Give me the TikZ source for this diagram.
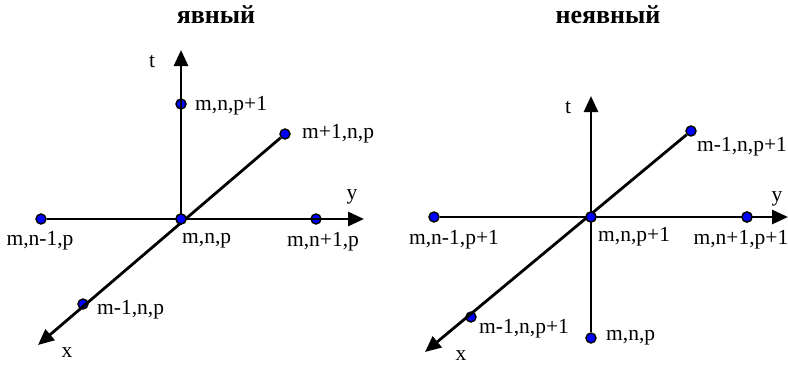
\documentclass[tikz,border=0pt]{standalone}
\usepackage{fontspec}
\setmainfont{Liberation Serif}
\usetikzlibrary{arrows.meta}
\begin{document}
\begin{tikzpicture}[x=1pt,y=-1pt,font=\fontsize{21.5}{24}\selectfont,
  axis/.style={line width=2.8pt,-{Triangle[length=16pt,width=14pt]}},
  knot/.style={circle,draw=black,fill=blue,line width=1.4pt,inner sep=0pt,minimum size=10pt},
  ttl/.style={font=\fontsize{26}{28}\selectfont\bfseries},
  txt/.style={inner sep=0pt}]
\useasboundingbox (0,0) rectangle (788,365);
% explicit scheme
\node[ttl] (h1) at (216,15) {явный};
\coordinate (t1) at (181,50);
\coordinate (y1) at (364,219);
\coordinate (x1) at (38,345);
\node[knot] (c1) at (181,219) {};
\node[knot] (up1) at (181,104) {};
\node[knot] (l1) at (41,219) {};
\node[knot] (r1) at (316,219) {};
\node[knot] (f1) at (285,134) {};
\node[knot] (b1) at (83,304) {};
\draw[axis] (c1.center) -- (t1);
\draw[axis] (l1) -- (y1);
\draw[axis] (f1) -- (x1);
\node[knot] at (c1) {};
\node[txt] (tl1) at (152,62) {t};
\node[txt] (yl1) at (352,197) {y};
\node[txt] (xl1) at (67,353) {x};
\node[txt,anchor=west] (up1l) at (195,106) {m,n,p+1};
\node[txt,anchor=west] (f1l) at (302,134) {m+1,n,p};
\node[txt] (l1l) at (40,241) {m,n-1,p};
\node[txt,anchor=west] (c1l) at (182,241) {m,n,p};
\node[txt] (r1l) at (323,242) {m,n+1,p};
\node[txt,anchor=west] (b1l) at (97,310) {m-1,n,p};
% implicit scheme
\node[ttl] (h2) at (608,15) {неявный};
\coordinate (t2) at (591,96);
\coordinate (y2) at (788,217);
\coordinate (x2) at (425,352);
\node[knot] (c2) at (591,217) {};
\node[knot] (dn2) at (591,338) {};
\node[knot] (l2) at (434,217) {};
\node[knot] (r2) at (747,217) {};
\node[knot] (f2) at (691,131) {};
\node[knot] (b2) at (471,317) {};
\draw[axis] (dn2) -- (t2);
\draw[axis] (l2) -- (y2);
\draw[axis] (f2) -- (x2);
\node[knot] at (c2) {};
\node[knot] at (r2) {};
\node[txt] (tl2) at (568,108) {t};
\node[txt] (yl2) at (777,199) {y};
\node[txt] (xl2) at (461,356) {x};
\node[txt,anchor=west] (f2l) at (697,147) {m-1,n,p+1};
\node[txt] (l2l) at (454,240) {m,n-1,p+1};
\node[txt,anchor=west] (c2l) at (598,237) {m,n,p+1};
\node[txt] (r2l) at (741,240) {m,n+1,p+1};
\node[txt,anchor=west] (b2l) at (479,329) {m-1,n,p+1};
\node[txt,anchor=west] (dn2l) at (606,338) {m,n,p};
\end{tikzpicture}
\end{document}
